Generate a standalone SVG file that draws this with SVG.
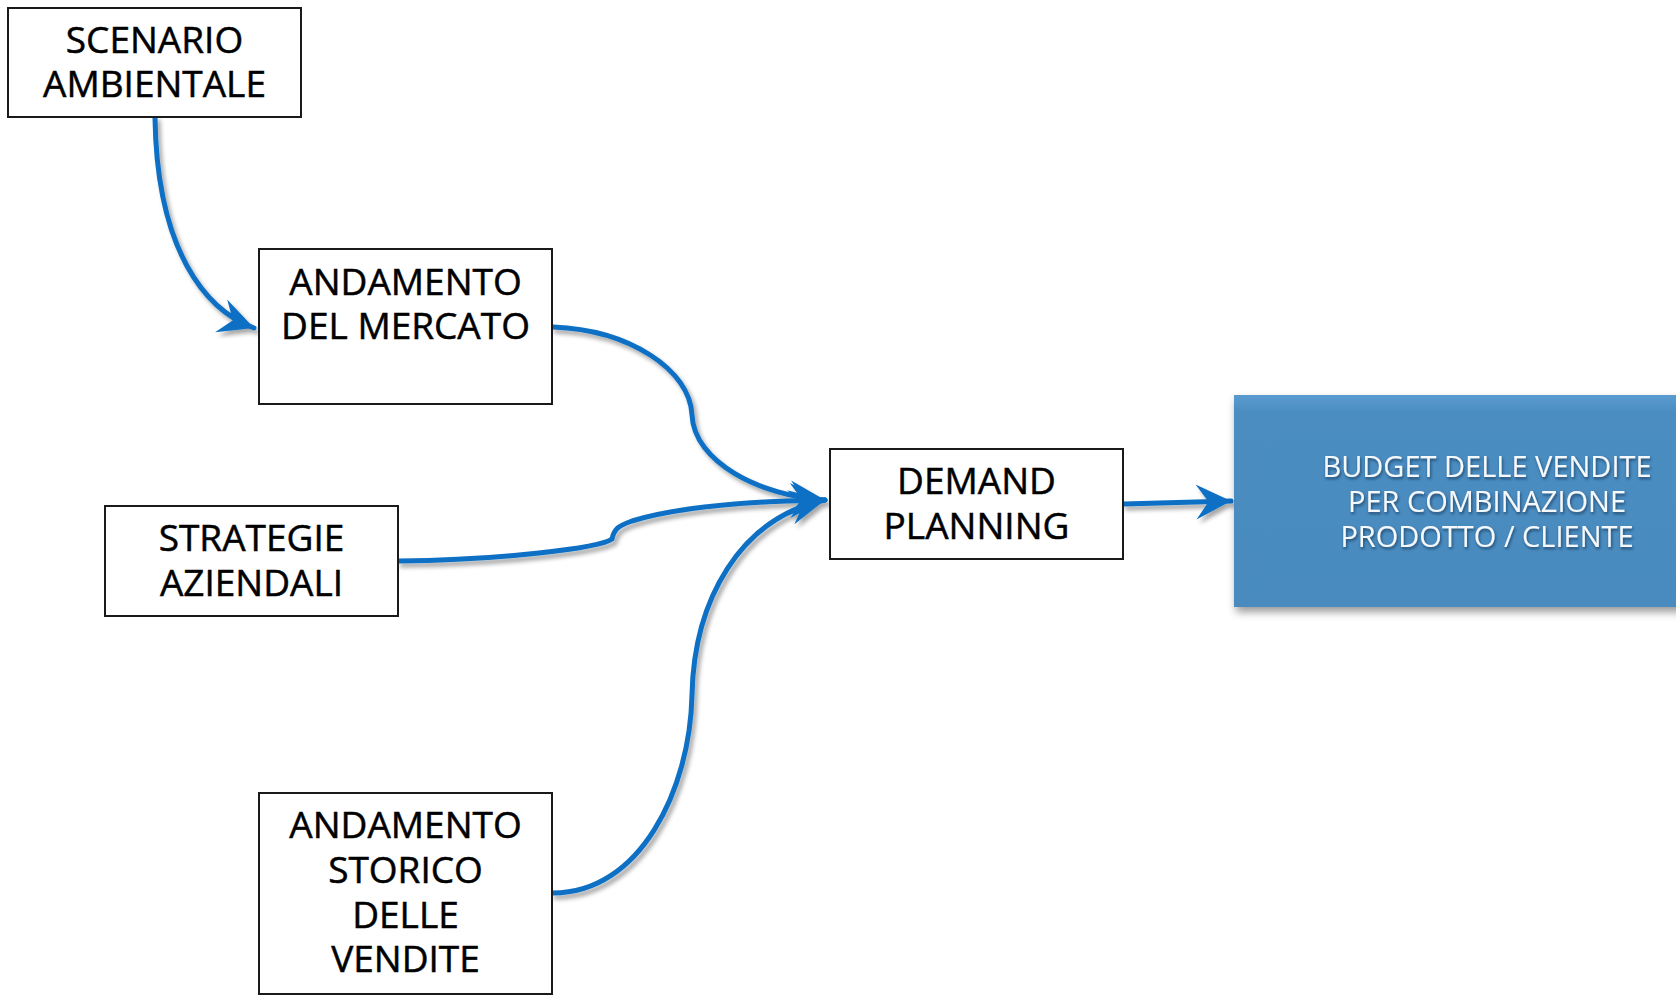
<svg xmlns="http://www.w3.org/2000/svg" width="1676" height="996" viewBox="0 0 1676 996">
<defs>
<style>
.box{fill:#fff;stroke:#1a1a1a;stroke-width:2}
.lbl{font-family:"Open Sans","Liberation Sans",sans-serif;font-size:37px;fill:#000;stroke:#000;stroke-width:0.5;text-anchor:middle}
.wl{font-family:"Open Sans","Liberation Sans",sans-serif;font-size:29px;fill:#f6f9fc;text-anchor:middle}
.con{fill:none;stroke:#0b6fc4;stroke-width:5;stroke-linecap:round}
</style>
<filter id="sh" x="-20%" y="-20%" width="140%" height="140%">
<feDropShadow dx="3" dy="4" stdDeviation="2" flood-color="#000" flood-opacity="0.35"/>
</filter>
<filter id="bsh" x="-10%" y="-10%" width="130%" height="130%">
<feDropShadow dx="2" dy="5" stdDeviation="4" flood-color="#000" flood-opacity="0.4"/>
</filter>
<filter id="tsh" x="-10%" y="-20%" width="120%" height="150%">
<feDropShadow dx="1" dy="2" stdDeviation="1.5" flood-color="#0c2a45" flood-opacity="0.7"/>
</filter>
<linearGradient id="bg" x1="0" y1="0" x2="0" y2="1">
<stop offset="0" stop-color="#5a9bd0"/>
<stop offset="0.08" stop-color="#4b8dc1"/>
<stop offset="1" stop-color="#4a8bbf"/>
</linearGradient>
<marker id="ah" markerUnits="userSpaceOnUse" markerWidth="40" markerHeight="40" viewBox="-30 -16 32 32" refX="0" refY="0" orient="auto">
<path d="M0,0 L-28,-14 L-18,0 L-28,14 Z" fill="#0b6fc4"/>
</marker>
</defs>

<g id="connectors" filter="url(#sh)">
<path class="con" d="M155,118 C157,250 205,310 254,328" marker-end="url(#ah)"/>
<path class="con" d="M553,327 C630,330 690,370 692,415 C694,462 760,496 825,500" marker-end="url(#ah)"/>
<path class="con" d="M399,561 C500,560 600,548 612,539 C614,530 617,526 632,521 C682,506 760,501 825,500" marker-end="url(#ah)"/>
<path class="con" d="M553,893 C640,893 690,790 692,695 C694,600 740,518 825,500" marker-end="url(#ah)"/>
<path class="con" d="M1124,504 L1231,501" marker-end="url(#ah)"/>
</g>

<g id="n-scenario">
<rect class="box" x="8" y="8" width="293" height="109"/>
<text class="lbl"><tspan x="154.5" y="53">SCENARIO</tspan><tspan x="154.5" y="97">AMBIENTALE</tspan></text>
</g>

<g id="n-mercato">
<rect class="box" x="259" y="249" width="293" height="155"/>
<text class="lbl"><tspan x="405.5" y="295">ANDAMENTO</tspan><tspan x="405.5" y="339">DEL MERCATO</tspan></text>
</g>

<g id="n-strategie">
<rect class="box" x="105" y="506" width="293" height="110"/>
<text class="lbl"><tspan x="251.5" y="551">STRATEGIE</tspan><tspan x="251.5" y="596">AZIENDALI</tspan></text>
</g>

<g id="n-storico">
<rect class="box" x="259" y="793" width="293" height="201"/>
<text class="lbl"><tspan x="405.5" y="838">ANDAMENTO</tspan><tspan x="405.5" y="883">STORICO</tspan><tspan x="405.5" y="928">DELLE</tspan><tspan x="405.5" y="972">VENDITE</tspan></text>
</g>

<g id="n-demand">
<rect class="box" x="830" y="449" width="293" height="110"/>
<text class="lbl"><tspan x="976.5" y="494">DEMAND</tspan><tspan x="976.5" y="539">PLANNING</tspan></text>
</g>

<g id="n-budget">
<rect x="1234" y="395" width="450" height="212" fill="url(#bg)" filter="url(#bsh)"/>
<g filter="url(#tsh)">
<text class="wl"><tspan x="1487" y="477">BUDGET DELLE VENDITE</tspan><tspan x="1487" y="512">PER COMBINAZIONE</tspan><tspan x="1487" y="547">PRODOTTO / CLIENTE</tspan></text>
</g>
</g>
</svg>
